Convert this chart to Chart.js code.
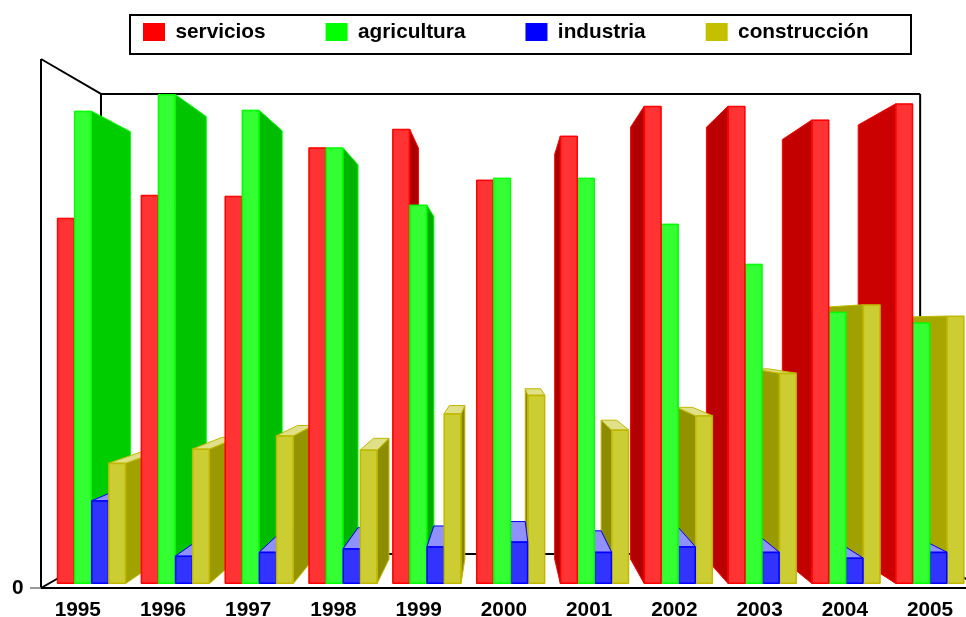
<!DOCTYPE html>
<html>
<head>
<meta charset="utf-8">
<script src="https://cdn.jsdelivr.net/npm/chart.js@4/dist/chart.umd.min.js"></script>
<style>
html,body{margin:0;padding:0;background:#fff;overflow:hidden;width:966px;height:617px}
#wrap{width:966px;height:617px;position:relative;overflow:hidden}
canvas{display:block}
</style>
</head>
<body>
<div id="wrap"><canvas id="c" width="972" height="617"></canvas></div>
<script>
const years = ['1995','1996','1997','1998','1999','2000','2001','2002','2003','2004','2005'];
const servicios    = [74.7,79.4,79.2,89.1,92.9,82.5,91.5,97.6,97.6,94.8,98.1];
const agricultura  = [96.6,100.0,96.8,89.1,77.4,82.9,82.9,73.5,65.3,55.5,53.3];
const industria    = [16.9,5.6,6.4,7.1,7.5,8.5,6.4,7.5,6.4,5.2,6.4];
const construccion = [24.6,27.5,30.2,27.3,34.7,38.5,31.4,34.3,43.0,57.0,54.7];
const yTicks = [0];

const VP = {x:501, y:327};
const BAR_DEPTH = 0.905, WALL_DEPTH = 0.8696;
const styles = [
  {front:'#ff3333', edge:'#ff0000', rgb:[255,0,0],   top:'#ff9090'},
  {front:'#33ff33', edge:'#00ff00', rgb:[0,255,0],   top:'#90ff90'},
  {front:'#3333ff', edge:'#0000ff', rgb:[0,0,255],   top:'#9090ff'},
  {front:'#cccc33', edge:'#c0b800', rgb:[204,204,0], top:'#e0e088'}
];
const project = (x, y, s) => ({x: VP.x + (x - VP.x) * s, y: VP.y + (y - VP.y) * s});

function poly(ctx, pts, fill, stroke) {
  ctx.beginPath();
  pts.forEach((p, i) => i ? ctx.lineTo(p.x, p.y) : ctx.moveTo(p.x, p.y));
  ctx.closePath();
  ctx.fillStyle = fill;
  ctx.fill();
  ctx.lineWidth = 1;
  ctx.strokeStyle = stroke;
  ctx.stroke();
}
function line(ctx, x1, y1, x2, y2, color, w) {
  ctx.beginPath();
  ctx.moveTo(x1, y1);
  ctx.lineTo(x2, y2);
  ctx.strokeStyle = color || '#000';
  ctx.lineWidth = w || 2;
  ctx.stroke();
}

const scene3d = {
  id: 'scene3d',
  afterLayout(chart) {
    const lg = chart.legend;
    const pad = lg.options.labels.padding;
    lg.isHorizontal = () => true;
    lg.lineWidths = [0, 0, 0, 0];
    lg.left = 143 - pad; lg.right = 1100;
    lg.top = 32 - 10.4 - pad; lg.bottom = 60;
  },
  beforeDraw(chart) {
    const ctx = chart.ctx;
    ctx.save();
    ctx.strokeStyle = '#000';
    ctx.lineWidth = 2;
    ctx.strokeRect(130, 15, 781, 39);
    ctx.restore();
  },
  beforeDatasetsDraw(chart) {
    const ctx = chart.ctx, a = chart.chartArea;
    const L = 41, R = 983, T = a.top, B = a.bottom;
    const bl = project(L, B, WALL_DEPTH), tl = project(L, T, WALL_DEPTH);
    const br = project(R, B, WALL_DEPTH), tr = project(R, T, WALL_DEPTH);
    ctx.save();
    line(ctx, L, T, L, B);
    line(ctx, L, T, tl.x, tl.y);
    line(ctx, L, B, bl.x, bl.y);
    line(ctx, tl.x, tl.y, tr.x, tr.y);
    line(ctx, tl.x, tl.y, bl.x, bl.y);
    line(ctx, tr.x, tr.y, br.x, br.y);
    line(ctx, bl.x, bl.y, br.x, br.y);
    line(ctx, br.x, br.y, R, B);
    line(ctx, L, B, 972, B);
    line(ctx, 30, B, L, B, '#777', 1.5);

    const bars = [];
    chart.data.datasets.forEach((ds, d) => {
      chart.getDatasetMeta(d).data.forEach(el => {
        const p = el.getProps(['x','y','base','width'], true);
        const l = p.x - p.width / 2, r = p.x + p.width / 2;
        const dist = r < VP.x ? VP.x - r : (l > VP.x ? l - VP.x : 0);
        bars.push({el, d, l, r, top: p.y, base: p.base, dist});
      });
    });
    bars.sort((m, n) => n.dist - m.dist);
    bars.forEach(b => {
      const st = styles[b.d];
      const f = 0.64 + 0.0004 * b.dist;
      const side = 'rgb(' + st.rgb.map(v => Math.round(v * f)).join(',') + ')';
      if (b.r < VP.x || b.l > VP.x) {
        const sx = b.r < VP.x ? b.r : b.l;
        poly(ctx, [
          {x: sx, y: b.top}, {x: sx, y: b.base},
          project(sx, b.base, BAR_DEPTH), project(sx, b.top, BAR_DEPTH)
        ], side, st.edge);
      }
      if (b.top > VP.y) {
        poly(ctx, [
          {x: b.l, y: b.top}, {x: b.r, y: b.top},
          project(b.r, b.top, BAR_DEPTH), project(b.l, b.top, BAR_DEPTH)
        ], st.top, st.edge);
      }
      poly(ctx, [
        {x: b.l, y: b.top}, {x: b.r, y: b.top},
        {x: b.r, y: b.base}, {x: b.l, y: b.base}
      ], st.edge, st.edge);
      b.el.draw(ctx);
    });
    ctx.restore();
    return false;
  }
};

const mk = (label, data, i) => ({
  label, data,
  backgroundColor: styles[i].front,
  borderColor: styles[i].edge,
  borderWidth: 1,
  borderSkipped: false,
  xAxisID: 'x', yAxisID: 'y',
  barPercentage: 1, categoryPercentage: 0.816
});

new Chart(document.getElementById('c'), {
  type: 'bar',
  plugins: [scene3d],
  data: {
    labels: years,
    datasets: [
      mk('servicios', servicios, 0),
      mk('agricultura', agricultura, 1),
      mk('industria', industria, 2),
      mk('construcción', construccion, 3)
    ]
  },
  options: {
    responsive: false,
    animation: false,
    layout: {padding: {left: 0, right: 0.2, top: 59, bottom: 0}},
    plugins: {
      tooltip: {enabled: false},
      title: {display: false},
      legend: {
        display: true,
        position: 'chartArea',
        align: 'start',
        labels: {
          boxWidth: 22, boxHeight: 18, padding: 60,
          color: '#000',
          font: {family: '"Liberation Sans", Arial, sans-serif', size: 20.8, weight: 'bold'},
          generateLabels: ch => ch.data.datasets.map((ds, i) => ({
            text: ds.label,
            fillStyle: i === 3 ? '#c4c000' : styles[i].edge,
            strokeStyle: 'transparent',
            lineWidth: 0,
            fontColor: '#000',
            datasetIndex: i,
            hidden: false
          }))
        }
      }
    },
    scales: {
      x: {type: 'category', display: false, offset: true},
      y: {type: 'linear', display: false, min: -0.92, max: 107.26},
      xLabels: {
        type: 'linear', position: 'bottom', offset: false,
        min: 1994.669, max: 2005.49,
        grid: {display: false, drawTicks: false},
        border: {display: false},
        afterBuildTicks: s => { s.ticks = years.map(v => ({value: +v})); },
        afterFit: s => { s.height = 29; s.paddingLeft = 0; s.paddingRight = 0; },
        ticks: {
          callback: v => String(v),
          autoSkip: false, maxRotation: 0, minRotation: 0, padding: 9.5,
          color: '#000',
          font: {family: '"Liberation Sans", Arial, sans-serif', size: 20.8, weight: 'bold'}
        }
      },
      yFront: {
        type: 'linear', position: 'left',
        min: 0, max: 108,
        grid: {display: false, drawTicks: false},
        border: {display: false},
        afterBuildTicks: s => { s.ticks = yTicks.map(v => ({value: v})); },
        afterFit: s => { s.width = 49.58; s.paddingTop = 0; s.paddingBottom = 0; },
        ticks: {
          callback: v => String(v),
          padding: 26,
          color: '#000',
          font: {family: '"Liberation Sans", Arial, sans-serif', size: 20.8, weight: 'bold'}
        }
      }
    }
  }
});
</script>
</body>
</html>
